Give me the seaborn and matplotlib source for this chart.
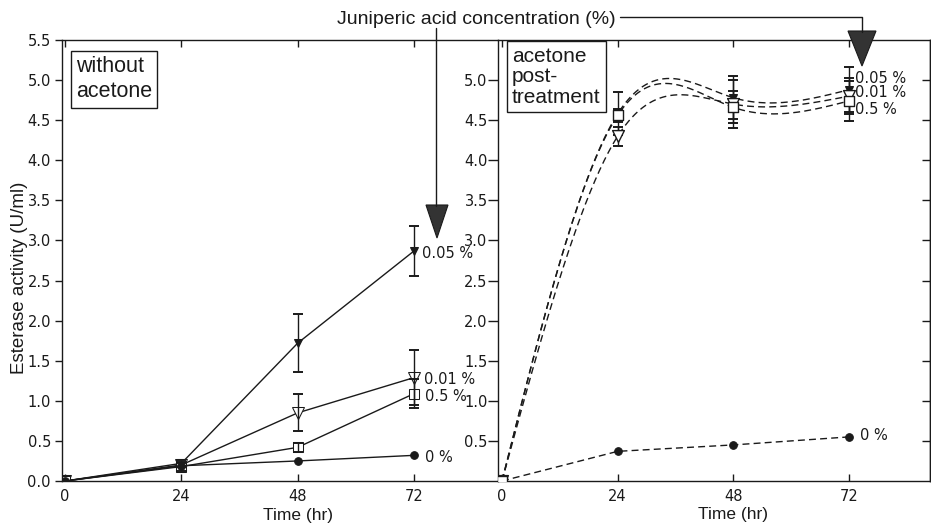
import numpy as np
import matplotlib
matplotlib.use("Agg")
import matplotlib.pyplot as plt
import seaborn as sns
from matplotlib.patches import Polygon
from matplotlib.lines import Line2D

# ---------------- data ----------------
time_hr = [0, 24, 48, 72]
x_ticks = [0, 24, 48, 72]
left_yticks = [0.0, 0.5, 1.0, 1.5, 2.0, 2.5, 3.0, 3.5, 4.0, 4.5, 5.0, 5.5]
right_yticks = [0.5, 1.0, 1.5, 2.0, 2.5, 3.0, 3.5, 4.0, 4.5, 5.0]
conc_labels = ["0.05 %", "0.01 %", "0.5 %", "0 %"]

# without acetone (solid lines)
wo_005 = [0.0, 0.22, 1.72, 2.87]
wo_005_err = [0.0, 0.04, 0.36, 0.31]
wo_001 = [0.0, 0.20, 0.85, 1.29]
wo_001_err = [0.0, 0.03, 0.23, 0.34]
wo_05 = [0.0, 0.18, 0.42, 1.09]
wo_05_err = [0.0, 0.06, 0.06, 0.18]
wo_0 = [0.0, 0.19, 0.25, 0.32]

# acetone post-treatment (dashed lines)
ac_005 = [0.0, 4.58, 4.78, 4.88]
ac_005_err = [0.0, 0.27, 0.27, 0.28]
ac_001 = [0.0, 4.30, 4.70, 4.80]
ac_001_err = [0.0, 0.12, 0.30, 0.22]
ac_05 = [0.0, 4.56, 4.66, 4.74]
ac_05_err = [0.0, 0.08, 0.20, 0.25]
ac_0 = [0.0, 0.37, 0.45, 0.55]

# ---------------- style ----------------
sns.set_theme(style="ticks")
plt.rcParams["font.family"] = ["Liberation Sans", "DejaVu Sans"]
plt.rcParams["axes.linewidth"] = 1.0
INK = "#1a1a1a"
NUMFONT = "DejaVu Sans"

W, H = 931, 524
fig = plt.figure(figsize=(W / 100, H / 100), dpi=100)
fig.patch.set_facecolor("white")

top_px, bot_px = 40, 481
ax1 = fig.add_axes([62 / W, 1 - bot_px / H, (498 - 62) / W, (bot_px - top_px) / H])
ax2 = fig.add_axes([498 / W, 1 - bot_px / H, (930 - 498) / W, (bot_px - top_px) / H])

markers = {
    "0.05 %": dict(marker="v", ms=5.5, mfc=INK, mec=INK),
    "0.01 %": dict(marker="v", ms=8.5, mfc="white", mec=INK),
    "0.5 %": dict(marker="s", ms=7, mfc="white", mec=INK),
    "0 %": dict(marker="o", ms=5.5, mfc=INK, mec=INK),
}


def natural_spline(x, y, n=300):
    """Smooth drawing path through the given points (natural cubic spline)."""
    x = np.asarray(x, float)
    y = np.asarray(y, float)
    k = len(x)
    h = np.diff(x)
    A = np.zeros((k, k))
    b = np.zeros(k)
    A[0, 0] = A[-1, -1] = 1.0
    for i in range(1, k - 1):
        A[i, i - 1] = h[i - 1]
        A[i, i] = 2 * (h[i - 1] + h[i])
        A[i, i + 1] = h[i]
        b[i] = 6 * ((y[i + 1] - y[i]) / h[i] - (y[i] - y[i - 1]) / h[i - 1])
    M = np.linalg.solve(A, b)
    xs = np.linspace(x[0], x[-1], n)
    idx = np.clip(np.searchsorted(x, xs) - 1, 0, k - 2)
    x0, x1 = x[idx], x[idx + 1]
    hh = x1 - x0
    t0, t1 = x1 - xs, xs - x0
    ys = ((M[idx] * t0 ** 3 + M[idx + 1] * t1 ** 3) / (6 * hh)
          + (y[idx] / hh - M[idx] * hh / 6) * t0
          + (y[idx + 1] / hh - M[idx + 1] * hh / 6) * t1)
    return xs, ys


def err_bars(ax, vals, errs):
    t = np.asarray(time_hr, float)
    v = np.asarray(vals, float)
    e = np.asarray(errs, float)
    m = e > 0
    ax.errorbar(t[m], v[m], yerr=e[m], fmt="none", ecolor=INK,
                elinewidth=1.0, capsize=3.5, capthick=1.4, zorder=3)


# ---------------- left panel: without acetone ----------------
left_series = [(wo_005, wo_005_err, "0.05 %"), (wo_001, wo_001_err, "0.01 %"),
               (wo_05, wo_05_err, "0.5 %"), (wo_0, None, "0 %")]
for vals, errs, lab in left_series:
    sns.lineplot(x=time_hr, y=vals, ax=ax1, color=INK, lw=1.0,
                 zorder=2, **markers[lab])
    if errs is not None:
        err_bars(ax1, vals, errs)

# ---------------- right panel: acetone post-treatment ----------------
dash = (0, (5, 3))
right_series = [(ac_005, ac_005_err, "0.05 %"), (ac_001, ac_001_err, "0.01 %"),
                (ac_05, ac_05_err, "0.5 %")]
for vals, errs, lab in right_series:
    xs, ys = natural_spline(time_hr, vals)
    ax2.plot(xs, ys, color=INK, lw=1.0, ls=dash, zorder=2)
    sns.scatterplot(x=time_hr, y=vals, ax=ax2, color=INK, zorder=4,
                    marker=markers[lab]["marker"], s=markers[lab]["ms"] ** 2,
                    facecolor=markers[lab]["mfc"], edgecolor=INK, linewidth=1.0,
                    legend=False)
    err_bars(ax2, vals, errs)
sns.lineplot(x=time_hr, y=ac_0, ax=ax2, color=INK, lw=1.0, ls=dash,
             zorder=2, **markers["0 %"])

# ---------------- axes formatting ----------------
for ax, xl, ly in ((ax1, (-0.62, 89.3), -0.062), (ax2, (-0.83, 88.8), -0.058)):
    ax.set_xlim(*xl)
    ax.set_ylim(0, 5.5)
    ax.set_xticks(x_ticks)
    ax.set_xticklabels([str(v) for v in x_ticks], fontsize=10.5, family=NUMFONT)
    ax.tick_params(axis="x", which="both", direction="in", top=True, bottom=True,
                   length=5, width=1, pad=6, colors=INK)
    ax.set_xlabel("Time (hr)", fontsize=12.5, color=INK)
    ax.xaxis.set_label_coords((48 - xl[0]) / (xl[1] - xl[0]), ly)
    ax.set_ylabel("")
    ax.set_facecolor("white")
    for s in ax.spines.values():
        s.set_color(INK)
        s.set_linewidth(1.0)

ax1.spines["right"].set_visible(False)
ax1.set_yticks(left_yticks)
ax1.set_yticklabels([f"{v:.1f}" for v in left_yticks], fontsize=10.5, family=NUMFONT)
ax1.tick_params(axis="y", direction="out", length=5, width=1, pad=3, colors=INK)
ax1.set_ylabel("Esterase activity (U/ml)", fontsize=13.5, color=INK)
ax1.yaxis.set_label_coords(-0.078, 0.46)

ax2.set_yticks(right_yticks)
ax2.set_yticklabels([f"{v:.1f}" for v in right_yticks], fontsize=10.5, family=NUMFONT)
ax2.tick_params(axis="y", direction="out", length=7, width=1, pad=0.5, colors=INK)
ax2r = ax2.secondary_yaxis("right")
ax2r.set_yticks(right_yticks)
ax2r.tick_params(axis="y", direction="in", length=6, width=1, labelright=False, colors=INK)
ax2r.spines["right"].set_color(INK)

# ---------------- series labels ----------------
lab_kw = dict(fontsize=10.5, family=NUMFONT, color=INK, va="center", ha="left")
ax1.text(73.7, 2.84, conc_labels[0], **lab_kw)
ax1.text(74.0, 1.27, conc_labels[1], **lab_kw)
ax1.text(74.3, 1.05, conc_labels[2], **lab_kw)
ax1.text(74.3, 0.29, conc_labels[3], **lab_kw)
ax2.text(73.2, 5.02, conc_labels[0], **lab_kw)
ax2.text(73.2, 4.84, conc_labels[1], **lab_kw)
ax2.text(73.2, 4.63, conc_labels[2], **lab_kw)
ax2.text(74.3, 0.57, conc_labels[3], **lab_kw)

box = dict(boxstyle="square,pad=0.25", fc="white", ec=INK, lw=1.0)
ax1.text(0.032, 0.963, "without\nacetone", transform=ax1.transAxes, fontsize=15.5,
         va="top", ha="left", linespacing=1.25, bbox=box, color=INK)
ax2.text(0.032, 0.985, "acetone\npost-\ntreatment", transform=ax2.transAxes,
         fontsize=15, va="top", ha="left", linespacing=1.12, bbox=box, color=INK)

# ---------------- header & arrows ----------------
def fx(px):
    return px / W


def fy(py):
    return 1 - py / H


fig.text(fx(476), fy(19), "Juniperic acid concentration (%)", fontsize=14,
         ha="center", va="center", color=INK)
fig.add_artist(Line2D([fx(620), fx(862), fx(862)], [fy(17), fy(17), fy(32)],
                      color=INK, lw=1.0))
fig.add_artist(Polygon([[fx(848), fy(31)], [fx(876), fy(31)], [fx(862), fy(66)]],
                       closed=True, fc="#333333", ec=INK, lw=0.8))
fig.add_artist(Line2D([fx(436), fx(436)], [fy(28), fy(206)], color=INK, lw=1.0))
fig.add_artist(Polygon([[fx(426), fy(205)], [fx(448), fy(205)], [fx(437), fy(238)]],
                       closed=True, fc="#333333", ec=INK, lw=0.8))

fig.savefig("out.png", dpi=100)
